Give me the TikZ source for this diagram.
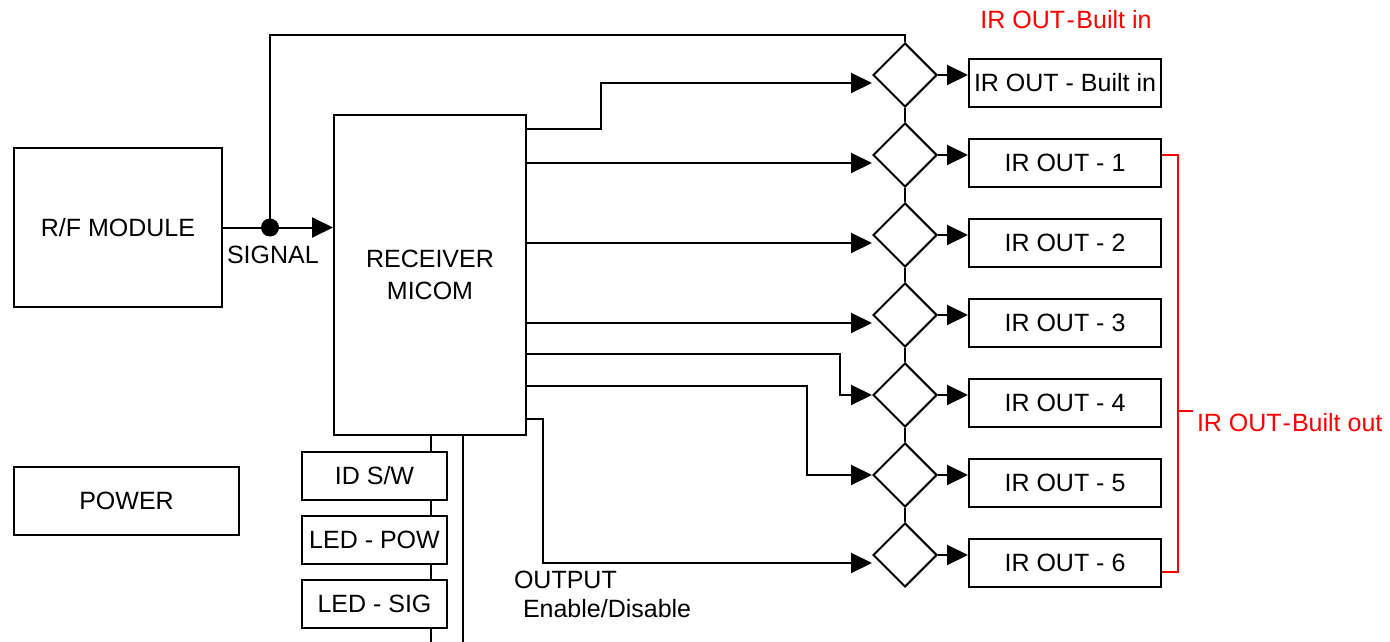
\documentclass[tikz,border=0pt]{standalone}
\usepackage{fontspec}
\setmainfont{Liberation Sans}
\usetikzlibrary{shapes.geometric,arrows.meta,positioning,calc}

\begin{document}
\begin{tikzpicture}[x=1pt,y=-1pt,line width=2pt,font=\fontsize{25}{32}\selectfont,
  blk/.style={draw,fill=white,inner sep=0pt,align=center},
  dia/.style={draw,diamond,minimum width=64pt,minimum height=64pt,inner sep=0pt},
  outb/.style={blk,minimum width=192pt,minimum height=48pt},
  arr/.style={-{Triangle[length=21pt,width=20pt]}},
  brk/.style={red,line width=1.5pt}]
\useasboundingbox (0,0) rectangle (1390,642);
\node[blk,minimum width=208pt,minimum height=159pt] (rf) at (118,227.5) {R/F MODULE};
\node[blk,minimum width=225pt,minimum height=68pt] (pow) at (126.5,501) {POWER};
\node[blk,minimum width=192pt,minimum height=320pt] (mc) at (430,275) {RECEIVER\\MICOM};
% lines below the micom
\draw ($(mc.south)+(1,0)$) -- ++(0,207);
\draw ($(mc.south)+(33,0)$) -- ++(0,207);
\node[blk,minimum width=145pt,minimum height=48pt] (ids) at (374.5,475.5) {ID S/W};
\node[blk,minimum width=145pt,minimum height=48pt] (ledp) at (374.5,540) {LED - POW};
\node[blk,minimum width=145pt,minimum height=48pt] (leds) at (374.5,604) {LED - SIG};
% signal
\coordinate (sj) at (270,227.5);
\draw[arr] (rf.east) -- (mc.west |- rf.east);
\node[anchor=north west,inner sep=0pt] (sig) at (226,245) {SIGNAL};
\fill (sj) circle (9);
% switches and outputs
\foreach \i/\t in {0/Built in,1/1,2/2,3/3,4/4,5/5,6/6}{
  \node[dia] (d\i) at (905,75+80*\i) {};
  \node[outb] (o\i) at (1065,83+80*\i) {IR OUT - \t};
  \draw[arr] (d\i.east) -- (o\i.west |- d\i.east);
}
\foreach \i [count=\j] in {0,...,5}
  \draw (d\i.south) -- (d\j.north);
\coordinate (tp) at (905,35);
\draw (sj) |- (tp) -- (d0.north);
% micom to switches
\draw[arr] ($(mc.north east)+(0,15)$) -- ++(74,0) |- (d0.west |- o0.west);
\foreach \i in {1,2,3}
  \draw[arr] (mc.east |- o\i.west) -- (d\i.west |- o\i.west);
\draw[arr] ($(mc.north east)+(0,240)$) -| ($(d4.west)+(-32,0)$) -- (d4.west);
\draw[arr] ($(mc.north east)+(0,272)$) -| ($(d5.west)+(-65,0)$) -- (d5.west);
\draw[arr] ($(mc.north east)+(0,305)$) -- ++(16,0) |- (d6.west |- o6.west);
\node[anchor=west,inner sep=0pt] (outl) at (513,580) {OUTPUT};
\node[anchor=west,inner sep=0pt] (enl) at (522,609) {Enable/Disable};
% red labels
\node[red,inner sep=0pt] (bin) at (1066,20) {IR OUT\kern1.5pt-\kern1.5pt Built in};
\draw[brk] ($(o1.east)+(0,-8)$) -- ++(16,0) |- ($(o6.east)+(0,9)$);
\coordinate (bm) at (1177,411);
\draw[brk] (bm) -- ++(16,0);
\node[red,anchor=north west,inner sep=0pt] (bout) at (1196,412) {IR OUT\kern1pt-\kern1pt Built out};
\end{tikzpicture}
\end{document}
